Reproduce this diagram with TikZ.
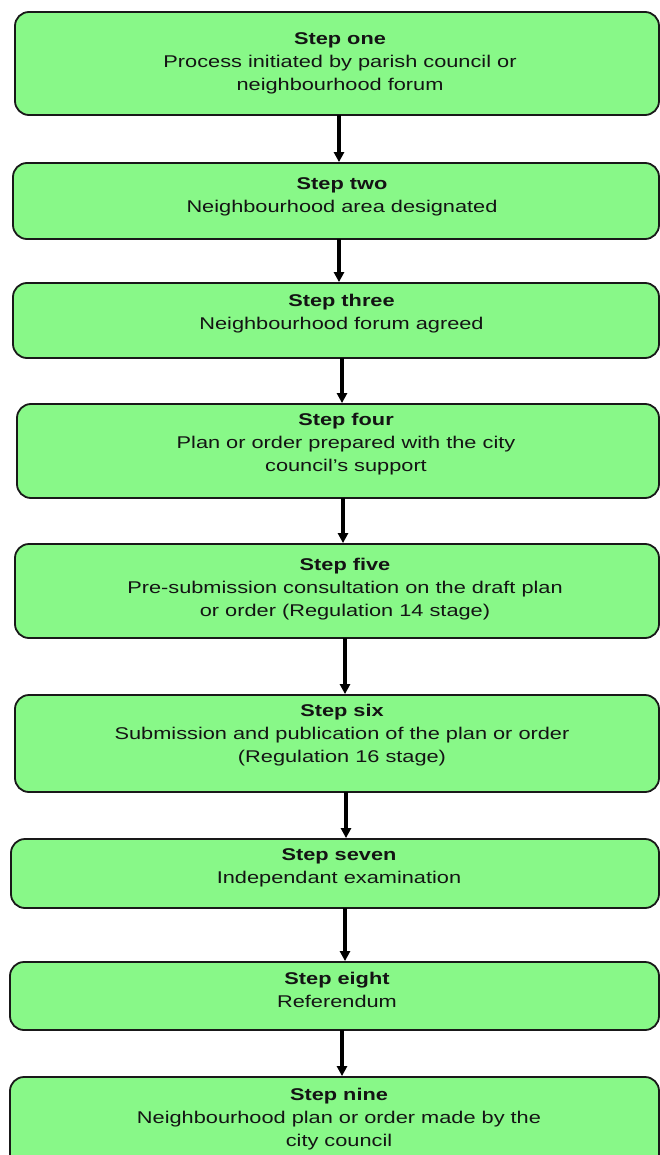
\documentclass[tikz,border=0pt]{standalone}
\usepackage{fontspec}
\setmainfont{Liberation Sans}[FakeStretch=1.28]
\usetikzlibrary{arrows.meta}
\definecolor{boxgreen}{RGB}{136,248,136}
\definecolor{edge}{RGB}{25,25,25}
\tikzset{
  stepbox/.style={draw=edge, line width=1.8pt, fill=boxgreen, rounded corners=14pt, inner sep=0pt, outer sep=0pt},
  steptext/.style={align=center, inner sep=0pt, font=\fontsize{17pt}{23pt}\selectfont, text=black!92},
  arr/.style={draw=black, line width=3.4pt, -{Triangle[length=10pt,width=10pt]}, shorten >=0.9pt}
}
\begin{document}
\begin{tikzpicture}
\useasboundingbox (0,0) rectangle (660pt,-1155pt);
\clip (0,0) rectangle (660pt,-1155pt);
% boxes
\node[stepbox, minimum width=644pt, minimum height=103pt] (b1) at (337pt,-63.5pt) {};
\node[stepbox, minimum width=646pt, minimum height=76pt]  (b2) at (336pt,-201pt) {};
\node[stepbox, minimum width=646pt, minimum height=75pt]  (b3) at (336pt,-320.5pt) {};
\node[stepbox, minimum width=642pt, minimum height=94pt]  (b4) at (338pt,-451pt) {};
\node[stepbox, minimum width=644pt, minimum height=94pt]  (b5) at (337pt,-591pt) {};
\node[stepbox, minimum width=644pt, minimum height=97pt]  (b6) at (337pt,-743.5pt) {};
\node[stepbox, minimum width=648pt, minimum height=69pt]  (b7) at (335pt,-873.5pt) {};
\node[stepbox, minimum width=649pt, minimum height=68pt]  (b8) at (334.5pt,-996pt) {};
\node[stepbox, minimum width=649pt, minimum height=98pt]  (b9) at (334.5pt,-1126pt) {};
% texts
\node[steptext] (t1) at (340pt,-63.5pt) {\textbf{Step one}\\Process initiated by parish council or\\neighbourhood forum};
\node[steptext] (t2) at (342pt,-196.5pt) {\textbf{Step two}\\Neighbourhood area designated};
\node[steptext] (t3) at (341.5pt,-313.5pt) {\textbf{Step three}\\Neighbourhood forum agreed};
\node[steptext] (t4) at (346pt,-444.5pt) {\textbf{Step four}\\Plan or order prepared with the city\\council’s support};
\node[steptext] (t5) at (345pt,-589pt) {\textbf{Step five}\\Pre-submission consultation on the draft plan\\or order (Regulation 14 stage)};
\node[steptext] (t6) at (342pt,-735.5pt) {\textbf{Step six}\\Submission and publication of the plan or order\\(Regulation 16 stage)};
\node[steptext] (t7) at (339pt,-867.5pt) {\textbf{Step seven}\\Independant examination};
\node[steptext] (t8) at (337pt,-990pt) {\textbf{Step eight}\\Referendum};
\node[steptext] (t9) at (339pt,-1119pt) {\textbf{Step nine}\\Neighbourhood plan or order made by the\\city council};
% connectors
\draw[arr] (b1.south -| 339pt,0) -- (b2.north -| 339pt,0);
\draw[arr] (b2.south -| 339pt,0) -- (b3.north -| 339pt,0);
\draw[arr] (b3.south -| 342pt,0) -- (b4.north -| 342pt,0);
\draw[arr] (b4.south -| 343pt,0) -- (b5.north -| 343pt,0);
\draw[arr] (b5.south -| 345pt,0) -- (b6.north -| 345pt,0);
\draw[arr] (b6.south -| 346pt,0) -- (b7.north -| 346pt,0);
\draw[arr] (b7.south -| 345pt,0) -- (b8.north -| 345pt,0);
\draw[arr] (b8.south -| 342pt,0) -- (b9.north -| 342pt,0);
\end{tikzpicture}
\end{document}
